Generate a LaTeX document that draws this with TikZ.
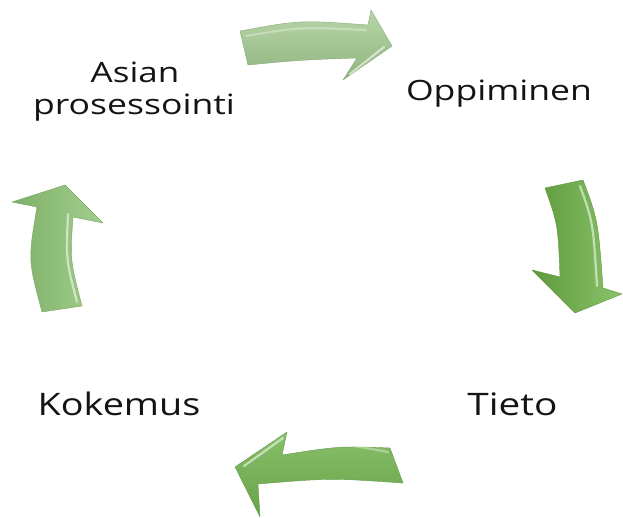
\documentclass[tikz,border=0pt]{standalone}
\usepackage{fontspec}
\setmainfont{Open Sans}
\definecolor{topgreen}{RGB}{160,200,140}
\definecolor{rightgreen}{RGB}{110,180,70}
\definecolor{leftgreen}{RGB}{140,195,115}
\definecolor{botgreen}{RGB}{115,180,80}
\definecolor{txt}{RGB}{20,20,20}
\newcommand{\widetxt}[2]{\scalebox{#1}[1]{#2}}
\tikzset{
  lbl/.style={anchor=base, inner sep=0pt, text=txt},
  arrowbody/.style={draw=#1!85!black, line width=0.4pt, line join=round},
  hilite/.style={white, opacity=0.55, line width=2.2pt, line cap=round},
}
\begin{document}
\begin{tikzpicture}[x=1pt,y=-1pt]
\useasboundingbox (0,0) rectangle (623,518);

% top arrow
\path[arrowbody=topgreen, top color=topgreen!75!white, bottom color=topgreen!90!black]
  (240,31) -- (248,65) .. controls (300,60) .. (357,58) -- (343,80) -- (392,46)
  -- (371,10) -- (368,25) .. controls (300,20) .. (240,31) -- cycle;
\draw[hilite] (350,74) -- (384,47);
\draw[hilite, opacity=0.3] (246,36) .. controls (300,27) .. (366,30);

% right arrow
\path[arrowbody=rightgreen, left color=rightgreen!85!black, right color=rightgreen!80!white]
  (545,188) -- (583,180) .. controls (598,220) .. (603,288) -- (622,294) -- (575,313)
  -- (532,270) -- (560,277) .. controls (558,225) .. (545,188) -- cycle;
\draw[hilite] (580,186) .. controls (593,222) .. (597,286);

% left arrow
\path[arrowbody=leftgreen, left color=leftgreen!90!black, right color=leftgreen!80!white]
  (42,312) -- (82,306) .. controls (70,260) .. (73,217) -- (103,223) -- (65,185)
  -- (12,202) -- (37,207) .. controls (28,260) .. (42,312) -- cycle;
\draw[hilite] (77,302) .. controls (66,260) .. (68,214);

% bottom arrow
\path[arrowbody=botgreen, top color=botgreen!85!white, bottom color=botgreen!90!black]
  (390,448) -- (403,483) .. controls (330,478) .. (258,484) -- (260,517) -- (235,467)
  -- (287,432) -- (282,455) .. controls (340,446) .. (390,448) -- cycle;
\draw[hilite] (283,438) -- (244,466);
\draw[hilite, opacity=0.35] (286,452) .. controls (340,443) .. (388,452);

% labels
\node[lbl, font=\fontsize{28}{32}\selectfont] (asian) at (135,83) {\widetxt{1.25}{Asian}};
\node[lbl, font=\fontsize{28}{32}\selectfont] (prosess) at (134,115) {\widetxt{1.27}{prosessointi}};
\node[lbl, font=\fontsize{28}{32}\selectfont] (oppi) at (499,101) {\widetxt{1.27}{Oppiminen}};
\node[lbl, font=\fontsize{31}{35}\selectfont] (koke) at (119,415) {\widetxt{1.22}{Kokemus}};
\node[lbl, font=\fontsize{31}{35}\selectfont] (tieto) at (512.5,415) {\widetxt{1.25}{Tieto}};
\end{tikzpicture}
\end{document}
